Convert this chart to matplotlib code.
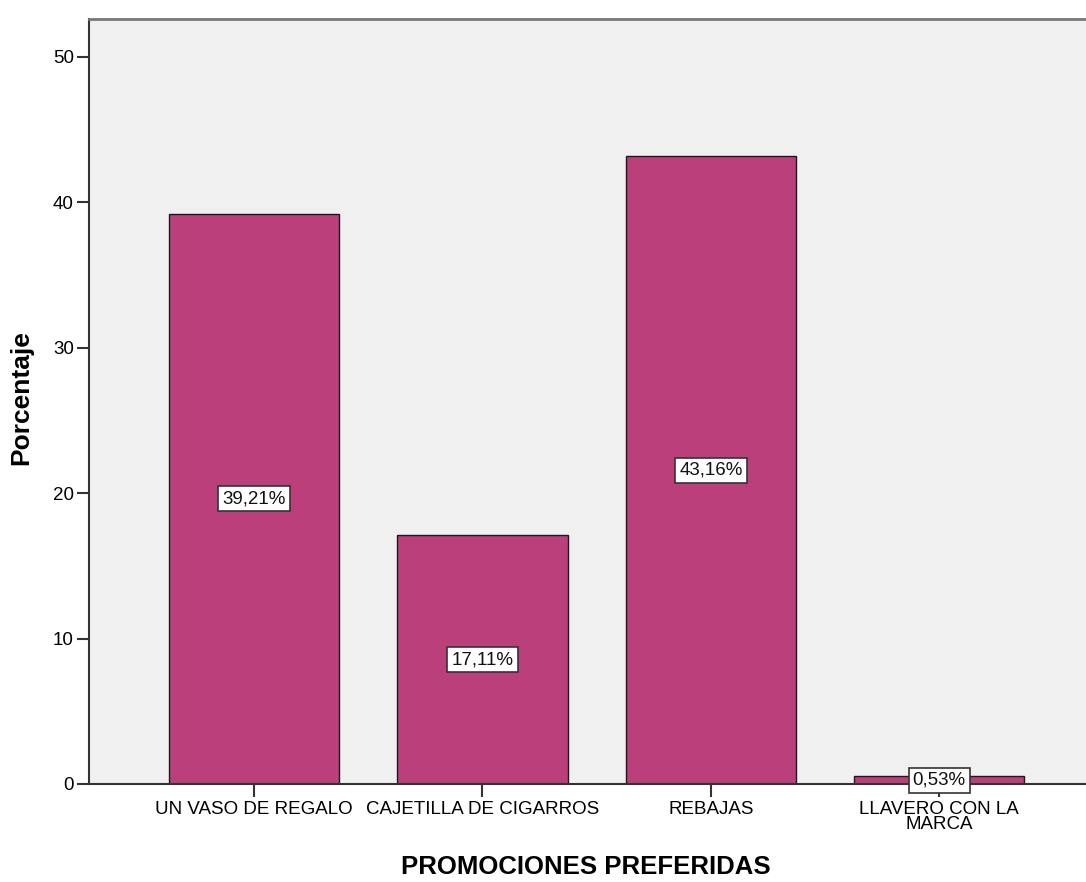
import matplotlib
matplotlib.use("Agg")
import matplotlib.pyplot as plt

categories = ["UN VASO DE REGALO", "CAJETILLA DE CIGARROS", "REBAJAS", "LLAVERO CON LA\nMARCA"]
percentages = [39.21, 17.11, 43.16, 0.53]
value_labels = ["39,21%", "17,11%", "43,16%", "0,53%"]
y_ticks = [0, 10, 20, 30, 40, 50]

plt.rcParams["font.family"] = ["Liberation Sans", "DejaVu Sans"]

fig = plt.figure(figsize=(10.86, 8.82), dpi=100)
ax = fig.add_axes([89 / 1086, 98 / 882, 1 - 89 / 1086 + 0.01, (784 - 19) / 882])
ax.set_facecolor("#F0F0F0")

x = list(range(len(categories)))
ax.bar(x, percentages, width=0.745, color="#BA3F7B", edgecolor="#1a1a1a", linewidth=1.0, zorder=2)

for xi, val, lab in zip(x, percentages, value_labels):
    ax.text(xi, val / 2, lab, ha="center", va="center", fontsize=13.5, color="#111111", zorder=3,
            bbox=dict(boxstyle="square,pad=0.22", facecolor="white", edgecolor="#333333", linewidth=1.2))

ax.set_xlim(-0.7225, 3.69)
ax.set_ylim(0, 52.6)
ax.set_xticks(x)
ax.set_xticklabels(categories, fontsize=13.5, linespacing=0.85)
ax.set_yticks(y_ticks)
ax.tick_params(axis="y", labelsize=13.5, length=9, width=1.5, color="#333333", pad=2)
ax.tick_params(axis="x", length=9, width=1.5, color="#333333", pad=3)

ax.spines["left"].set_color("#333333")
ax.spines["left"].set_linewidth(1.5)
ax.spines["bottom"].set_color("#333333")
ax.spines["bottom"].set_linewidth(1.5)
ax.spines["top"].set_color("#777777")
ax.spines["top"].set_linewidth(2.0)
ax.spines["right"].set_visible(False)

ax.set_ylabel("Porcentaje", fontsize=19, fontweight="bold", labelpad=14)
ax.yaxis.label.set_y(0.505)
ax.set_xlabel("PROMOCIONES PREFERIDAS", fontsize=18.5, fontweight="bold", labelpad=16)
ax.xaxis.label.set_x(0.493)

fig.savefig("out.png", dpi=100)
